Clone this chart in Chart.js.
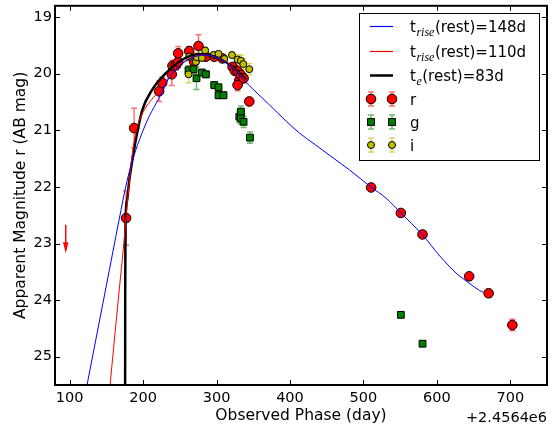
<!DOCTYPE html>
<html><head><meta charset="utf-8">
<script src="https://cdn.jsdelivr.net/npm/chart.js@4.4.1/dist/chart.umd.min.js"></script>
<style>html,body{margin:0;padding:0;background:#fff;}</style>
</head><body>
<canvas id="c" width="557" height="426"></canvas>
<script>
// ---- tick labels ----
const xTicks = [100, 200, 300, 400, 500, 600, 700];
const yTicks = [19, 20, 21, 22, 23, 24, 25];

// ---- r band ----
const rPhase = [176.8, 187.7, 221.8, 226.0, 239.0, 240.0, 244.6, 247.7, 247.7, 262.7, 269.6, 275.4, 285.5, 296.8, 308.0, 321.8, 325.0, 328.6, 331.0, 333.0, 336.8, 328.6, 344.6, 510.5, 551.0, 580.5, 644.0, 670.5, 702.8];
const rMag   = [22.55, 20.96, 20.31, 20.16, 20.01, 19.86, 19.85, 19.79, 19.64, 19.60, 19.79, 19.51, 19.70, 19.70, 19.73, 19.88, 19.95, 19.96, 20.12, 20.02, 20.08, 20.20, 20.49, 22.01, 22.46, 22.84, 23.58, 23.88, 24.44];
const rErr   = [0.48, 0.35, 0.18, 0.10, 0.20, 0.10, 0.08, 0.10, 0.12, 0.08, 0.08, 0.20, 0.06, 0.05, 0.05, 0.05, 0.06, 0.10, 0.08, 0.08, 0.08, 0.10, 0.07, 0.04, 0.05, 0.05, 0.05, 0.07, 0.10];

// ---- g band ----
const gPhase = [261.8, 268.6, 272.7, 280.0, 285.5, 296.8, 302.7, 302.7, 309.5, 331.0, 333.2, 333.0, 336.8, 345.5, 551.0, 580.5];
const gMag   = [19.94, 19.92, 20.08, 19.98, 20.01, 20.20, 20.24, 20.38, 20.38, 20.76, 20.67, 20.79, 20.85, 21.13, 24.26, 24.77];
const gErr   = [0.08, 0.08, 0.20, 0.06, 0.06, 0.06, 0.06, 0.06, 0.06, 0.10, 0.10, 0.10, 0.10, 0.10, 0.05, 0.05];

// ---- i band ----
const iPhase = [261.8, 262.7, 271.9, 273.2, 280.0, 284.5, 295.9, 302.7, 310.5, 321.0, 328.6, 333.2, 336.4, 344.6];
const iMag   = [20.01, 19.70, 19.79, 19.71, 19.72, 19.59, 19.67, 19.65, 19.74, 19.67, 19.75, 19.77, 19.83, 19.92];
const iErr   = [0.15, 0.08, 0.10, 0.08, 0.06, 0.06, 0.05, 0.05, 0.05, 0.05, 0.08, 0.10, 0.10, 0.10];

// ---- r-band upper limit ----
const limPhase = [94.6, 94.6];
const limMag   = [22.67, 23.12];
const limTip   = 23.17;

// ---- model curves ----
const blueX = [123.6, 135, 150, 167, 178, 190, 200, 208, 222, 235, 248, 260, 272, 285, 298, 310, 322, 337, 351, 372, 395, 413, 435, 460, 481, 510, 531, 551, 580, 604, 626, 644, 658, 663];
const blueY = [25.5, 24.74, 23.74, 22.6, 21.9, 21.35, 21.0, 20.76, 20.42, 20.08, 19.88, 19.76, 19.69, 19.67, 19.70, 19.78, 19.90, 20.11, 20.29, 20.55, 20.84, 21.05, 21.26, 21.50, 21.70, 22.00, 22.20, 22.46, 22.84, 23.22, 23.52, 23.70, 23.83, 23.86];
const redX  = [155, 162, 168, 173, 177, 181, 185, 190, 195, 205, 214, 222, 235, 250, 265, 280, 295, 310, 325, 340];
const redY  = [25.5, 24.55, 23.75, 23.1, 22.5, 21.95, 21.45, 21.05, 20.82, 20.57, 20.42, 20.30, 20.06, 19.85, 19.72, 19.67, 19.69, 19.77, 19.92, 20.12];
const blackX = [175.5, 175.6, 176, 178, 181, 185, 190, 199, 212, 231, 250, 265, 277, 290, 305, 320, 332, 340];
const blackY = [25.7, 24.0, 22.65, 22.25, 21.9, 21.55, 21.17, 20.64, 20.29, 19.99, 19.78, 19.68, 19.65, 19.67, 19.74, 19.86, 20.0, 20.1];

const pts = (xs, ys) => xs.map((v, i) => ({x: v, y: ys[i]}));

Chart.defaults.font.family = 'DejaVu Sans';
Chart.defaults.font.size = 14.5;
Chart.defaults.color = '#000';

const errPlugin = {
  id: 'errbars',
  beforeDatasetsDraw(chart) {
    const {ctx, chartArea: a, scales: {x, y}} = chart;
    ctx.save();
    ctx.beginPath(); ctx.rect(a.left, a.top, a.right - a.left, a.bottom - a.top); ctx.clip();
    chart.data.datasets.forEach(ds => {
      if (!ds.errors) return;
      ctx.strokeStyle = ds.errColor; ctx.lineWidth = 1.5;
      ds.data.forEach((p, i) => {
        const e = ds.errors[i];
        const px = x.getPixelForValue(p.x);
        const y1 = y.getPixelForValue(p.y - e), y2 = y.getPixelForValue(p.y + e);
        ctx.beginPath();
        ctx.moveTo(px, y1); ctx.lineTo(px, y2);
        ctx.moveTo(px - 3, y1); ctx.lineTo(px + 3, y1);
        ctx.moveTo(px - 3, y2); ctx.lineTo(px + 3, y2);
        ctx.stroke();
      });
    });
    ctx.restore();
  }
};

function marker(ctx, kind, cx, cy) {
  ctx.lineWidth = 1; ctx.strokeStyle = '#000';
  if (kind === 'r') {
    ctx.fillStyle = '#ff0000'; ctx.beginPath(); ctx.arc(cx, cy, 4.8, 0, Math.PI * 2); ctx.fill(); ctx.stroke();
  } else if (kind === 'g') {
    ctx.fillStyle = '#008000'; ctx.fillRect(cx - 3.4, cy - 3.4, 6.8, 6.8); ctx.strokeRect(cx - 3.4, cy - 3.4, 6.8, 6.8);
  } else {
    ctx.fillStyle = '#bfbf00'; ctx.beginPath(); ctx.arc(cx, cy, 3.5, 0, Math.PI * 2); ctx.fill(); ctx.stroke();
  }
}

const decoPlugin = {
  id: 'deco',
  afterDraw(chart) {
    const {ctx, chartArea: a, scales: {x, y}} = chart;
    ctx.save();
    // upper limit arrow head
    const ax = x.getPixelForValue(limPhase[1]);
    const ay = y.getPixelForValue(limTip);
    ctx.fillStyle = '#ff0000';
    ctx.beginPath(); ctx.moveTo(ax, ay); ctx.lineTo(ax - 2.7, ay - 11); ctx.lineTo(ax + 2.7, ay - 11); ctx.closePath(); ctx.fill();
    // ticks (inward, all sides)
    ctx.strokeStyle = '#000'; ctx.lineWidth = 1;
    ctx.beginPath();
    xTicks.forEach(v => {
      const px = Math.round(x.getPixelForValue(v)) + 0.5;
      ctx.moveTo(px, a.bottom); ctx.lineTo(px, a.bottom - 5);
      ctx.moveTo(px, a.top); ctx.lineTo(px, a.top + 5);
    });
    yTicks.forEach(v => {
      const py = Math.round(y.getPixelForValue(v)) + 0.5;
      ctx.moveTo(a.left, py); ctx.lineTo(a.left + 5, py);
      ctx.moveTo(a.right, py); ctx.lineTo(a.right - 5, py);
    });
    ctx.stroke();
    // frame
    ctx.lineWidth = 2;
    ctx.strokeRect(a.left, a.top, a.right - a.left, a.bottom - a.top);
    // offset text
    ctx.fillStyle = '#000';
    ctx.font = '14.5px "DejaVu Sans"';
    ctx.textAlign = 'right'; ctx.textBaseline = 'alphabetic';
    ctx.fillText('+2.4564e6', a.right, 421.5);
    // legend
    const L = 359, T = 13, W = 180, H = 147;
    ctx.fillStyle = '#fff'; ctx.fillRect(L, T, W, H);
    ctx.lineWidth = 1; ctx.strokeStyle = '#000'; ctx.strokeRect(L + 0.5, T + 0.5, W, H);
    const rows = [26, 51, 75, 99, 122, 145];
    const lineSpec = [['#0000ff', 1.2, 'rise', '(rest)=148d'], ['#ff0000', 1.2, 'rise', '(rest)=110d'], ['#000000', 2.5, 'e', '(rest)=83d']];
    lineSpec.forEach((s, k) => {
      const yy = rows[k];
      ctx.strokeStyle = s[0]; ctx.lineWidth = s[1];
      ctx.beginPath(); ctx.moveTo(370, yy + 0.5); ctx.lineTo(393, yy + 0.5); ctx.stroke();
      ctx.fillStyle = '#000'; ctx.textAlign = 'left';
      ctx.font = '15px "DejaVu Sans"';
      let tx = 410;
      ctx.fillText('t', tx, yy + 6); tx += ctx.measureText('t').width + 0.5;
      ctx.font = 'italic 12px "Liberation Serif"';
      ctx.fillText(s[2], tx, yy + 9.5); tx += ctx.measureText(s[2]).width + 0.5;
      ctx.font = '15px "DejaVu Sans"';
      ctx.fillText(s[3], tx, yy + 6);
    });
    const mk = [['r', 'rgba(255,0,0,0.55)'], ['g', 'rgba(0,128,0,0.55)'], ['i', 'rgba(191,191,0,0.6)']];
    mk.forEach((m, k) => {
      const yy = rows[3 + k];
      [371, 392].forEach(cx => {
        ctx.strokeStyle = m[1]; ctx.lineWidth = 1.5;
        ctx.beginPath();
        ctx.moveTo(cx, yy - 7); ctx.lineTo(cx, yy + 7);
        ctx.moveTo(cx - 3, yy - 7); ctx.lineTo(cx + 3, yy - 7);
        ctx.moveTo(cx - 3, yy + 7); ctx.lineTo(cx + 3, yy + 7);
        ctx.stroke();
        marker(ctx, m[0], cx, yy);
      });
      ctx.fillStyle = '#000'; ctx.font = '15px "DejaVu Sans"'; ctx.textAlign = 'left';
      ctx.fillText(m[0], 410, yy + 6);
    });
    ctx.restore();
  }
};

const curve = (xs, ys, color, w) => ({
  type: 'line', data: pts(xs, ys), borderColor: color, borderWidth: w, pointRadius: 0,
  showLine: true, fill: false, cubicInterpolationMode: 'monotone', order: 0
});

new Chart(document.getElementById('c'), {
  type: 'scatter',
  data: {
    datasets: [
      curve(blueX, blueY, '#0000ff', 1),
      curve(redX, redY, '#ff0000', 1),
      curve(blackX, blackY, '#000000', 2.5),
      {label: 'limit', type: 'line', data: pts(limPhase, limMag), borderColor: '#ff0000', borderWidth: 1.5, pointRadius: 0, showLine: true, order: 0},
      {label: 'i', data: pts(iPhase, iMag), errors: iErr, errColor: 'rgba(191,191,0,0.6)', pointStyle: 'circle', pointRadius: 3.5, backgroundColor: '#bfbf00', borderColor: '#000', borderWidth: 1, order: 1},
      {label: 'g', data: pts(gPhase, gMag), errors: gErr, errColor: 'rgba(0,128,0,0.55)', pointStyle: 'rect', pointRadius: 4.8, backgroundColor: '#008000', borderColor: '#000', borderWidth: 1, order: 2},
      {label: 'r', data: pts(rPhase, rMag), errors: rErr, errColor: 'rgba(255,0,0,0.55)', pointStyle: 'circle', pointRadius: 4.8, backgroundColor: '#ff0000', borderColor: '#000', borderWidth: 1, order: 3}
    ]
  },
  options: {
    responsive: false, animation: false,
    layout: {padding: {left: 0, right: 10, top: 5, bottom: 0}},
    plugins: {legend: {display: false}, tooltip: {enabled: false}},
    scales: {
      x: {
        type: 'linear', min: 80, max: 750,
        grid: {display: false, drawTicks: false}, border: {display: false},
        ticks: {padding: 5, font: {size: 14.5}},
        afterBuildTicks: s => { s.ticks = xTicks.map(v => ({value: v})); },
        afterFit: s => { s.height = 41; s.paddingLeft = 0; s.paddingRight = 0; },
        title: {display: true, text: 'Observed Phase (day)', font: {size: 15.5}, padding: {top: 0, bottom: 1}}
      },
      y: {
        type: 'linear', min: 18.8, max: 25.5, reverse: true,
        grid: {display: false, drawTicks: false}, border: {display: false},
        ticks: {padding: 3, font: {size: 14.5}},
        afterBuildTicks: s => { s.ticks = yTicks.map(v => ({value: v})); },
        afterFit: s => { s.width = 55; s.paddingTop = 0; s.paddingBottom = 0; },
        title: {display: true, text: 'Apparent Magnitude r (AB mag)', font: {size: 15.5}, padding: {top: 12, bottom: 0}}
      }
    }
  },
  plugins: [errPlugin, decoPlugin]
});
</script>
</body></html>
